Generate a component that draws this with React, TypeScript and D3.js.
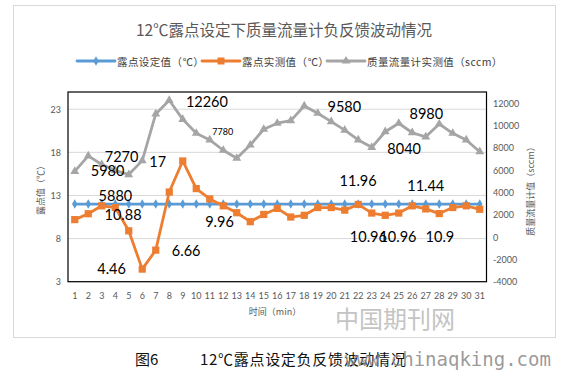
import React from "react";
import * as d3 from "d3";

const categories: number[] = d3.range(1, 32);
const setpoint: number[] = categories.map(() => 12);
const measured: number[] = [
  10.2, 10.88, 11.8, 11.6, 8.9, 4.46, 6.66, 13.4, 17, 13.8, 12.6, 11.8, 11.0, 9.96, 10.8, 11.5,
  10.5, 10.7, 11.6, 11.6, 11.3, 11.96, 10.96, 10.7, 10.96, 11.8, 11.44, 10.9, 11.6, 11.8, 11.4,
];
const flow: number[] = [
  5880, 7270, 6500, 5980, 5600, 6850, 11030, 12260, 10550, 9300, 8700, 7780, 7060, 8250, 9660, 10200,
  10430, 11750, 11090, 10340, 9580, 8700, 8040, 9440, 10200, 9350, 8980, 10130, 9300, 8700, 7650,
];
const leftTicks: number[] = [3, 8, 13, 18, 23];
const rightTicks: number[] = [-4000, -2000, 0, 2000, 4000, 6000, 8000, 10000, 12000];

// data labels: index (0-based) into series, anchor [category, axis value]
const flowLabels: { i: number; at: [number, number]; small?: boolean }[] = [
  { i: 3, at: [3.43, 5965] },
  { i: 1, at: [4.47, 7202] },
  { i: 0, at: [4.01, 3743] },
  { i: 7, at: [10.79, 12166] },
  { i: 11, at: [11.96, 9442], small: true },
  { i: 20, at: [20.97, 11745] },
  { i: 26, at: [27.04, 11046] },
  { i: 22, at: [25.4, 7919] },
];
const measuredLabels: { i: number; at: [number, number] }[] = [
  { i: 1, at: [4.58, 10.74] },
  { i: 5, at: [3.73, 4.51] },
  { i: 6, at: [9.25, 6.64] },
  { i: 8, at: [7.15, 16.92] },
  { i: 13, at: [11.72, 9.96] },
  { i: 21, at: [21.99, 14.74] },
  { i: 22, at: [22.75, 8.22] },
  { i: 24, at: [24.94, 8.22] },
  { i: 26, at: [27.0, 14.16] },
  { i: 27, at: [28.05, 8.22] },
];

const W = 561;
const H = 378;
const plot = { left: 68, right: 486.5, top: 92, bottom: 281.7 };
const BLUE = "#5B9BD5";
const ORANGE = "#ED7D31";
const GRAY = "#A5A5A5";
const CJK = "'Noto Sans CJK SC', 'Noto Sans', sans-serif";
const NUM = "Lato, 'Noto Sans', sans-serif";

export default function App() {
  const x = d3
    .scaleBand<number>()
    .domain(categories)
    .range([plot.left, plot.right])
    .padding(0);
  const xc = (c: number) => (x(c) as number) + x.bandwidth() / 2;
  const xLin = d3.scaleLinear().domain([0.5, 31.5]).range([plot.left, plot.right]);
  const yL = d3.scaleLinear().domain([3, 25]).range([plot.bottom, plot.top]);
  const yR = d3.scaleLinear().domain([-4000, 13000]).range([plot.bottom, plot.top]);

  const lineL = d3
    .line<number>()
    .x((_, i) => xc(categories[i]))
    .y((d) => yL(d));
  const lineR = d3
    .line<number>()
    .x((_, i) => xc(categories[i]))
    .y((d) => yR(d));

  const tri = d3.symbol(d3.symbolTriangle, 34)() as string;
  const diamond = d3.symbol(d3.symbolDiamond, 26)() as string;

  const lw = 2.8;

  return (
    <svg
      width={W}
      height={H}
      style={{ position: "absolute", left: 0, top: 0, background: "#fff" }}
    >
      <rect x={0} y={0} width={W} height={H} fill="#fff" />
      {/* outer chart border */}
      <rect x={13.5} y={5.5} width={542} height={332} fill="#fff" stroke="#d9d9d9" strokeWidth={1} />

      {/* title */}
      <text
        x={284}
        y={28.5}
        textAnchor="middle"
        dominantBaseline="central"
        fontFamily={CJK}
        fontSize={15.5}
        fill="#595959"
      >
        12℃露点设定下质量流量计负反馈波动情况
      </text>

      {/* legend */}
      <g fontFamily={CJK} fontSize={10.5} fill="#404040" letterSpacing={0.4}>
        <line x1={77} x2={115} y1={61} y2={61} stroke={BLUE} strokeWidth={lw} strokeLinecap="round" />
        <path d={diamond} transform="translate(96,61)" fill={BLUE} />
        <text x={117} y={61} dominantBaseline="central">露点设定值（℃）</text>
        <line x1={202} x2={240} y1={61} y2={61} stroke={ORANGE} strokeWidth={lw} strokeLinecap="round" />
        <rect x={217.5} y={57.5} width={7} height={7} fill={ORANGE} />
        <text x={242} y={61} dominantBaseline="central">露点实测值（℃）</text>
        <line x1={327} x2={365} y1={61} y2={61} stroke={GRAY} strokeWidth={lw} strokeLinecap="round" />
        <path d={tri} transform="translate(346,61)" fill={GRAY} />
        <text x={367} y={61} dominantBaseline="central">质量流量计实测值（sccm）</text>
      </g>

      {/* gridlines */}
      {leftTicks.map((t) => (
        <line
          key={"g" + t}
          x1={plot.left}
          x2={plot.right}
          y1={yL(t)}
          y2={yL(t)}
          stroke="#d9d9d9"
          strokeWidth={1}
        />
      ))}

      {/* left ticks */}
      {leftTicks.map((t) => (
        <text
          key={"l" + t}
          x={61}
          y={yL(t)}
          textAnchor="end"
          dominantBaseline="central"
          fontFamily={NUM}
          fontSize={9}
          fill="#595959"
        >
          {t}
        </text>
      ))}
      {/* right ticks */}
      {rightTicks.map((t) => (
        <text
          key={"r" + t}
          x={493}
          y={yR(t)}
          dominantBaseline="central"
          fontFamily={NUM}
          fontSize={9}
          fill="#595959"
        >
          {t}
        </text>
      ))}
      {/* x ticks */}
      {categories.map((c) => (
        <text
          key={"x" + c}
          x={xc(c)}
          y={295}
          textAnchor="middle"
          dominantBaseline="central"
          fontFamily={NUM}
          fontSize={9}
          fill="#595959"
        >
          {c}
        </text>
      ))}

      {/* axis titles */}
      <text
        x={275}
        y={311.5}
        textAnchor="middle"
        dominantBaseline="central"
        fontFamily={CJK}
        fontSize={9}
        fill="#595959"
      >
        时间（min）
      </text>
      <text
        transform="translate(40,188) rotate(-90)"
        textAnchor="middle"
        dominantBaseline="central"
        fontFamily={CJK}
        fontSize={9}
        fill="#595959"
      >
        露点值（℃）
      </text>
      <text
        transform="translate(530,189) rotate(-90)"
        textAnchor="middle"
        dominantBaseline="central"
        fontFamily={CJK}
        fontSize={9}
        fill="#595959"
      >
        质量流量计值（sccm）
      </text>

      {/* series: blue setpoint */}
      <path d={lineL(setpoint) as string} fill="none" stroke={BLUE} strokeWidth={lw} strokeLinejoin="round" />
      {setpoint.map((v, i) => (
        <path key={"b" + i} d={diamond} transform={`translate(${xc(categories[i])},${yL(v)})`} fill={BLUE} />
      ))}

      {/* orange measured */}
      <path d={lineL(measured) as string} fill="none" stroke={ORANGE} strokeWidth={lw} strokeLinejoin="round" />
      {measured.map((v, i) => (
        <rect
          key={"o" + i}
          x={xc(categories[i]) - 3.6}
          y={yL(v) - 3.6}
          width={7.2}
          height={7.2}
          fill={ORANGE}
        />
      ))}

      {/* gray flow */}
      <path d={lineR(flow) as string} fill="none" stroke={GRAY} strokeWidth={lw} strokeLinejoin="round" />
      {flow.map((v, i) => (
        <path key={"t" + i} d={tri} transform={`translate(${xc(categories[i])},${yR(v)})`} fill={GRAY} />
      ))}

      {/* data labels */}
      {flowLabels.map((l, k) => (
        <text
          key={"fl" + k}
          x={xLin(l.at[0])}
          y={yR(l.at[1])}
          textAnchor="middle"
          dominantBaseline="central"
          fontFamily={NUM}
          fontSize={l.small ? 9 : 14.5}
          fill="#000"
        >
          {flow[l.i]}
        </text>
      ))}
      {measuredLabels.map((l, k) => (
        <text
          key={"ml" + k}
          x={xLin(l.at[0])}
          y={yL(l.at[1])}
          textAnchor="middle"
          dominantBaseline="central"
          fontFamily={NUM}
          fontSize={14.5}
          fill="#000"
        >
          {measured[l.i]}
        </text>
      ))}

      {/* plot border */}
      <rect
        x={plot.left}
        y={plot.top}
        width={plot.right - plot.left}
        height={plot.bottom - plot.top}
        fill="none"
        stroke="#000"
        strokeWidth={1.2}
      />

      {/* watermark */}
      <text x={335} y={328} fontFamily={CJK} fontSize={24} fill="#c4c4c4">
        中国期刊网
      </text>

      {/* caption */}
      <text x={135} y={365} fontFamily={CJK} fontSize={15} fill="#111">
        图6
      </text>
      <text x={200} y={365} fontFamily={CJK} fontSize={15} fill="#111" letterSpacing={0.7}>
        12℃露点设定负反馈波动情况
      </text>
      <text
        x={345}
        y={366}
        fontFamily="'DejaVu Sans Mono', monospace"
        fontSize={19}
        fill="#888"
        fillOpacity={0.85}
      >
        www.chinaqking.com
      </text>
    </svg>
  );
}
